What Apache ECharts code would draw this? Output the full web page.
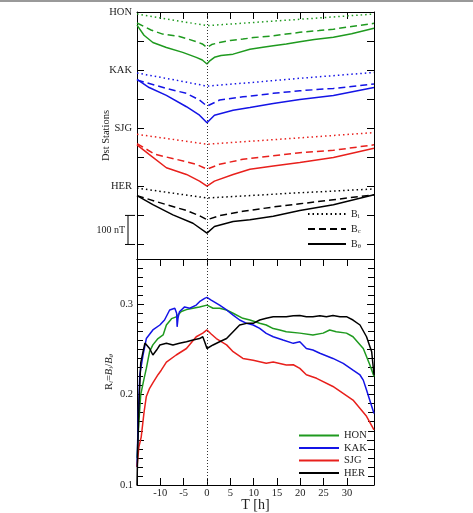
<!DOCTYPE html>
<html>
<head>
<meta charset="utf-8">
<script src="https://cdn.jsdelivr.net/npm/echarts@6/dist/echarts.min.js"></script>
<style>
  html, body { margin: 0; padding: 0; background: #fff; }
  #chart { width: 473px; height: 513px; }
</style>
</head>
<body>
<div id="chart"></div>
<script>
// stations, colours and the vertical offset (nT) of each station in the top panel
const stations = ['HON', 'KAK', 'SJG', 'HER'];
const stationColors = ['#1f9a1f', '#1414e6', '#e8201c', '#000000'];
const stationOffsets = [0, -200, -400, -600];
const stationTicks = ['HON', 'KAK', 'SJG', 'HER'];

// top panel: [T (h), nT relative to station baseline]
const honBi = [[-15, -7], [-7.5, -27], [0, -47], [10, -36], [20, -25], [35.8, -7]];
const honBc = [[-15, -38], [-12, -62], [-9.5, -76], [-5.9, -84], [-2.3, -102], [-1, -110], [0, -122], [1, -112], [2.7, -105], [5, -98], [7.7, -93], [10, -88], [14.2, -82], [17, -76], [19.9, -70], [24, -64], [27.1, -59], [31, -50], [35.8, -39]];
const honBt = [[-15, -45], [-13.5, -80], [-11.6, -105], [-8.7, -122], [-5.2, -139], [-2.3, -156], [-1, -165], [0, -179], [0.6, -168], [1.6, -156], [3, -150], [5.6, -145], [9.2, -128], [12, -121], [14.2, -116], [17, -110], [19.9, -102], [23, -95], [27.1, -87], [31, -75], [35.8, -56]];

const kakBi = [[-15, -10], [-7.5, -32], [0, -55], [10, -42], [20, -28], [35.8, -8]];
const kakBc = [[-15, -34], [-8.7, -63], [-4.4, -80], [-1.6, -103], [0, -124], [2.7, -103], [7.7, -92], [14.2, -80], [19.9, -71], [27.1, -63], [35.8, -48]];
const kakBt = [[-15, -32], [-12.4, -60], [-8.7, -87], [-4.4, -126], [-1.6, -155], [0, -181], [1.6, -155], [5.6, -138], [9.2, -129], [14.2, -115], [19.9, -101], [27.1, -87], [35.8, -60]];

const sjgBi = [[-15, -21], [-7.5, -38], [0, -55], [10, -44], [20, -33], [35.8, -15]];
const sjgBc = [[-15, -53], [-11.1, -90], [-6.6, -107], [-2.3, -124], [0, -141], [2.7, -124], [7.7, -107], [14.2, -95], [19.9, -84], [27.1, -76], [35.8, -57]];
const sjgBt = [[-15, -57], [-12.4, -90], [-8.7, -136], [-4.4, -159], [-1.6, -182], [0, -199], [1.6, -182], [5.6, -159], [9.2, -141], [14.2, -130], [19.9, -118], [27.1, -101], [35.8, -69]];

const herBi = [[-15, -6], [-7.5, -23], [0, -40], [10, -31], [20, -22], [35.8, -9]];
const herBc = [[-15, -32], [-8.7, -63], [-4.4, -83], [-1.6, -101], [0, -115], [2.7, -101], [7.7, -86], [14.2, -71], [19.9, -60], [27.1, -46], [35.8, -29]];
const herBt = [[-15, -32], [-11.6, -63], [-7.3, -98], [-3, -127], [0, -161], [1.6, -138], [5.6, -121], [9.2, -115], [14.2, -103], [19.9, -83], [27.1, -63], [35.8, -29]];

// bottom panel: [T (h), Ri = Bi/Btheta]
const honR = [[-15, 0.13], [-14.6, 0.17], [-14.2, 0.2], [-13.6, 0.215], [-13, 0.229], [-12.3, 0.2475], [-11.6, 0.255], [-10.5, 0.262], [-9.4, 0.266], [-8.7, 0.277], [-7.6, 0.284], [-6.6, 0.286], [-5.5, 0.292], [-4.4, 0.294], [-3, 0.2955], [-1.6, 0.297], [0, 0.299], [1.3, 0.2955], [2.7, 0.2955], [4.2, 0.2936], [5.6, 0.29], [7.7, 0.2844], [9.2, 0.2825], [11.3, 0.279], [12.7, 0.277], [14.2, 0.273], [15.6, 0.2715], [17, 0.2696], [19.9, 0.268], [22.7, 0.266], [24.9, 0.268], [26.3, 0.2715], [27.7, 0.2696], [29.9, 0.268], [31.3, 0.264], [33.5, 0.251], [34.9, 0.233], [35.8, 0.22]];
const kakR = [[-15, 0.12], [-14.7, 0.18], [-14.4, 0.222], [-13.7, 0.244], [-13, 0.262], [-11.6, 0.2715], [-10.1, 0.277], [-9.1, 0.2825], [-8, 0.2936], [-6.9, 0.2955], [-6.5, 0.29], [-6.4, 0.275], [-6.2, 0.285], [-5.9, 0.2917], [-4.8, 0.297], [-3.7, 0.2955], [-2.3, 0.299], [-1.6, 0.3028], [-0.5, 0.3065], [0, 0.3076], [0.9, 0.3046], [2.7, 0.299], [4.2, 0.2936], [5.6, 0.288], [7, 0.2825], [8.5, 0.2788], [9.9, 0.277], [11.3, 0.2733], [12.7, 0.2678], [14.2, 0.264], [16.3, 0.2604], [18.5, 0.2567], [19.9, 0.2585], [21.3, 0.251], [22.7, 0.2493], [24.2, 0.2457], [27, 0.24], [29.2, 0.2346], [31.3, 0.227], [32.8, 0.2217], [33.5, 0.216], [34.2, 0.205], [35.8, 0.179]];
const sjgR = [[-15, 0.12], [-14.6, 0.142], [-14.1, 0.153], [-13.5, 0.18], [-13, 0.198], [-12.3, 0.207], [-11.6, 0.213], [-10.5, 0.222], [-9.8, 0.227], [-8.7, 0.236], [-6.6, 0.2438], [-4.4, 0.251], [-2.3, 0.264], [-0.9, 0.268], [0, 0.2715], [0.9, 0.267], [2, 0.262], [4.2, 0.255], [5.6, 0.2475], [7.7, 0.24], [9.9, 0.238], [12.7, 0.2346], [14.2, 0.236], [17, 0.2327], [18.5, 0.233], [19.9, 0.229], [21.3, 0.222], [23.5, 0.218], [27, 0.209], [31.3, 0.194], [34.2, 0.176], [35.8, 0.161]];
const herR = [[-15, 0.1], [-14.8, 0.15], [-14.5, 0.2], [-14.2, 0.235], [-13.7, 0.2475], [-13.3, 0.257], [-13, 0.2567], [-12.3, 0.251], [-11.6, 0.2438], [-10.8, 0.2493], [-10.1, 0.2549], [-8.7, 0.2567], [-7.3, 0.2549], [-5.9, 0.2567], [-4.4, 0.2585], [-3, 0.2604], [-1.6, 0.262], [-0.9, 0.264], [-0.5, 0.2585], [0, 0.251], [1.3, 0.2549], [2.7, 0.2585], [4.2, 0.262], [5.6, 0.2696], [7, 0.277], [8.5, 0.2788], [9.9, 0.2788], [11.3, 0.2825], [12.7, 0.2844], [14.2, 0.2862], [15.6, 0.2862], [17, 0.2862], [18.5, 0.2873], [19.9, 0.2874], [21.3, 0.2862], [22.7, 0.2862], [24.2, 0.2873], [25.6, 0.2862], [27, 0.2874], [28.5, 0.2862], [29.9, 0.2862], [31.3, 0.2825], [32.8, 0.277], [34.2, 0.264], [35.3, 0.2475], [35.8, 0.222]];

// tick positions
const timeTicks = [-10, -5, 0, 5, 10, 15, 20, 25, 30];
const dstTicks = [0, -100, -200, -300, -400, -500, -600, -700, -800];
const ratioLabels = [0.1, 0.2, 0.3];

const topCurves = [[honBi, honBc, honBt], [kakBi, kakBc, kakBt], [sjgBi, sjgBc, sjgBt], [herBi, herBc, herBt]];
const bottomCurves = [honR, kakR, sjgR, herR];

const FONT = 'Liberation Serif';
const dotType = [1.5, 3];
const dashType = [7, 4];
const lineTypes = [dotType, dashType, 'solid'];
const bNames = ['Bi', 'Bc', 'Bθ'];

const zeroLine = {
    silent: true,
    symbol: 'none',
    label: { show: false },
    lineStyle: { type: [1, 2], color: '#333', width: 1 },
    data: [{ xAxis: 0 }]
};

const series = [];
topCurves.forEach((curves, s) => {
    curves.forEach((curve, k) => {
        series.push({
            // the black HER curves double as the Bi / Bc / Btheta legend
            name: s === 3 ? bNames[k] : stations[s] + ' ' + bNames[k],
            type: 'line',
            xAxisIndex: 0,
            yAxisIndex: 0,
            symbol: 'none',
            silent: true,
            lineStyle: { color: stationColors[s], width: 1.5, type: lineTypes[k] },
            itemStyle: { color: stationColors[s] },
            data: curve.map(p => [p[0], p[1] + stationOffsets[s]]),
            markLine: s === 0 && k === 0 ? zeroLine : undefined
        });
    });
});
bottomCurves.forEach((curve, s) => {
    series.push({
        name: stations[s],
        type: 'line',
        xAxisIndex: 2,
        yAxisIndex: 2,
        symbol: 'none',
        silent: true,
        lineStyle: { color: stationColors[s], width: 1.5 },
        itemStyle: { color: stationColors[s] },
        data: curve,
        markLine: s === 0 ? zeroLine : undefined
    });
});

const axisLine = { show: true, onZero: false, lineStyle: { color: '#000', width: 1 } };
const tickStyle = { color: '#000', width: 1 };
// hide the symbol that line series put in the middle of a legend icon
const noLegendSymbol = { color: 'transparent', borderWidth: 0, opacity: 0 };

const chart = echarts.init(document.getElementById('chart'));
chart.setOption({
    animation: false,
    backgroundColor: '#fff',
    textStyle: { fontFamily: FONT },
    grid: [
        { left: 137, right: 99, top: 12, height: 247 },
        { left: 137, right: 99, top: 259, height: 226 }
    ],
    legend: [
        {
            data: bNames,
            orient: 'vertical',
            left: 302,
            top: 204,
            itemWidth: 38,
            itemHeight: 10,
            itemGap: 4,
            selectedMode: false,
            itemStyle: noLegendSymbol,
            formatter: name => '{b|B}{s|' + name.slice(1) + '}',
            textStyle: {
                fontFamily: FONT,
                fontSize: 10,
                color: '#222',
                rich: {
                    b: { fontFamily: FONT, fontSize: 10, color: '#222' },
                    s: { fontFamily: FONT, fontSize: 6.5, color: '#222', padding: [5, 0, 0, 0] }
                }
            }
        },
        {
            data: stations,
            orient: 'vertical',
            left: 293,
            top: 425,
            itemWidth: 40,
            itemHeight: 10,
            itemGap: 1.5,
            selectedMode: false,
            itemStyle: noLegendSymbol,
            textStyle: { fontFamily: FONT, fontSize: 10.5, color: '#222' }
        }
    ],
    xAxis: [
        {
            gridIndex: 0, type: 'value', min: -15, max: 35.8, position: 'bottom',
            axisLine: axisLine, axisTick: { show: false }, axisLabel: { show: false }, splitLine: { show: false }
        },
        {
            gridIndex: 0, type: 'value', min: -15, max: 35.8, position: 'top',
            axisLine: axisLine,
            axisTick: { inside: true, length: 7, lineStyle: tickStyle, customValues: timeTicks },
            axisLabel: { show: false }, splitLine: { show: false }
        },
        {
            gridIndex: 1, type: 'value', min: -15, max: 35.8, position: 'bottom',
            name: 'T [h]', nameLocation: 'middle', nameGap: 13, nameMoveOverlap: false,
            nameTextStyle: { fontFamily: FONT, fontSize: 14, color: '#222' },
            axisLine: axisLine,
            axisTick: { inside: true, length: 7, lineStyle: tickStyle, customValues: timeTicks },
            axisLabel: { customValues: timeTicks, margin: 3, fontFamily: FONT, fontSize: 10.5, color: '#222' },
            splitLine: { show: false }
        },
        {
            gridIndex: 1, type: 'value', min: -15, max: 35.8, position: 'top',
            axisLine: axisLine,
            axisTick: { inside: true, length: 7, lineStyle: tickStyle, customValues: timeTicks },
            axisLabel: { show: false }, splitLine: { show: false }
        }
    ],
    yAxis: [
        {
            gridIndex: 0, type: 'value', min: -850, max: 0, position: 'left',
            name: 'Dst Stations', nameLocation: 'middle', nameGap: 25, nameMoveOverlap: false,
            nameTextStyle: { fontFamily: FONT, fontSize: 10.5, color: '#222' },
            axisLine: axisLine,
            axisTick: { inside: true, length: 7, lineStyle: tickStyle, customValues: dstTicks },
            axisLabel: {
                customValues: stationOffsets,
                formatter: v => stationTicks[stationOffsets.indexOf(v)],
                margin: 5, fontFamily: FONT, fontSize: 10.5, color: '#222'
            },
            splitLine: { show: false }
        },
        {
            gridIndex: 0, type: 'value', min: -850, max: 0, position: 'right',
            axisLine: axisLine,
            axisTick: { inside: true, length: 7, lineStyle: tickStyle, customValues: dstTicks },
            axisLabel: { show: false }, splitLine: { show: false }
        },
        {
            gridIndex: 1, type: 'value', min: 0.1, max: 0.35, interval: 0.05, position: 'left',
            name: '{n|R}{s|i}{n|=}{it|B}{s|i}{n|/}{it|B}{s|θ}', nameLocation: 'middle', nameGap: 22, nameMoveOverlap: false,
            nameTextStyle: {
                fontFamily: FONT, fontSize: 10.5, color: '#222',
                rich: {
                    n: { fontFamily: FONT, fontSize: 10.5, color: '#222' },
                    it: { fontFamily: FONT, fontSize: 10.5, fontStyle: 'italic', color: '#222' },
                    s: { fontFamily: FONT, fontSize: 7, fontStyle: 'italic', color: '#222', padding: [5, 0, 0, 0] }
                }
            },
            axisLine: axisLine,
            axisTick: { inside: true, length: 7, lineStyle: tickStyle },
            minorTick: { show: true, splitNumber: 5, length: 6, lineStyle: tickStyle },
            axisLabel: {
                customValues: ratioLabels, formatter: v => v.toFixed(1),
                margin: 4, fontFamily: FONT, fontSize: 10.5, color: '#222'
            },
            splitLine: { show: false }, minorSplitLine: { show: false }
        },
        {
            gridIndex: 1, type: 'value', min: 0.1, max: 0.35, interval: 0.05, position: 'right',
            axisLine: axisLine,
            axisTick: { inside: true, length: 7, lineStyle: tickStyle },
            minorTick: { show: true, splitNumber: 5, length: 6, lineStyle: tickStyle },
            axisLabel: { show: false }, splitLine: { show: false }, minorSplitLine: { show: false }
        }
    ],
    series: series
});

// page rule along the top and the 100 nT scale bar beside the top panel
const barTop = chart.convertToPixel({ yAxisIndex: 0 }, -700);
const barBottom = chart.convertToPixel({ yAxisIndex: 0 }, -800);
chart.setOption({
    graphic: [
        { type: 'rect', shape: { x: 0, y: 0, width: 473, height: 2 }, style: { fill: '#999' }, silent: true },
        { type: 'line', shape: { x1: 128, y1: barTop, x2: 128, y2: barBottom }, style: { stroke: '#000', lineWidth: 1 }, silent: true },
        { type: 'line', shape: { x1: 125, y1: barTop, x2: 135, y2: barTop }, style: { stroke: '#000', lineWidth: 1 }, silent: true },
        { type: 'line', shape: { x1: 125, y1: barBottom, x2: 135, y2: barBottom }, style: { stroke: '#000', lineWidth: 1 }, silent: true },
        {
            type: 'text', x: 125, y: (barTop + barBottom) / 2, silent: true,
            style: { text: '100 nT', fontFamily: FONT, fontSize: 10, fill: '#222', align: 'right', verticalAlign: 'middle' }
        }
    ]
});
</script>
</body>
</html>
